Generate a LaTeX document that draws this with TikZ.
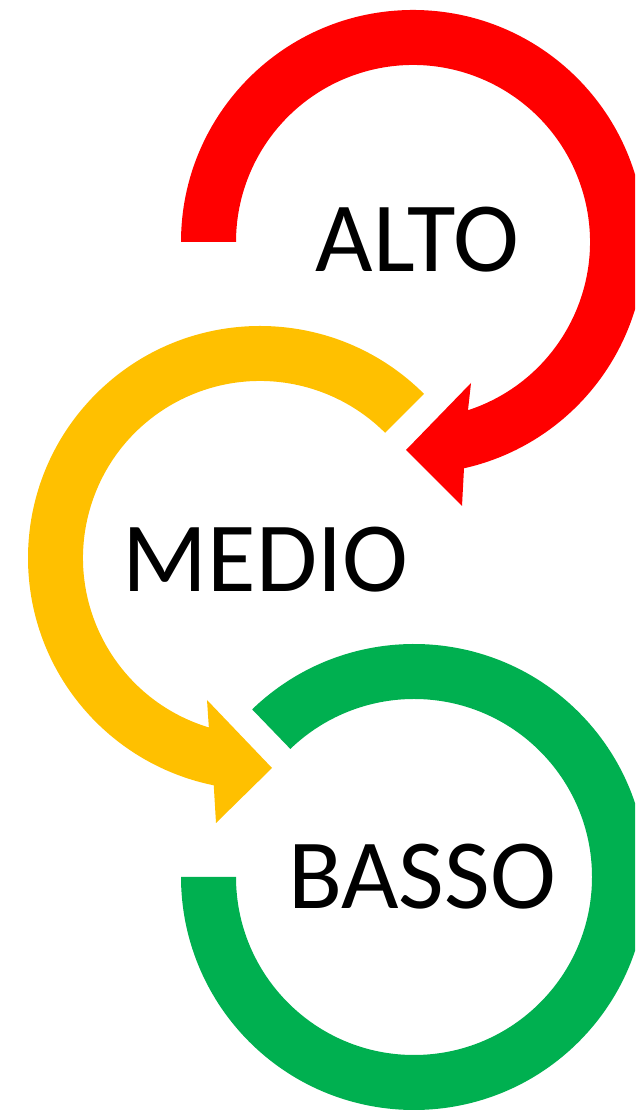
\documentclass[tikz,border=0pt]{standalone}
\usepackage{fontspec}
\setmainfont{Carlito}
\definecolor{cred}{HTML}{FF0000}
\definecolor{cyellow}{HTML}{FFC000}
\definecolor{cgreen}{HTML}{00B050}
\begin{document}
\begin{tikzpicture}[x=0.75pt,y=0.75pt,
  lbl/.style={inner sep=0pt,font=\fontsize{74.5}{80}\selectfont,text=black}]
\useasboundingbox (0,0) rectangle (635,1112);
\clip (0,0) rectangle (635,1112);
% centres
\coordinate (cr) at (413,870);
\coordinate (cy) at (260,554);
\coordinate (cg) at (414,235);
% red arrow
\coordinate (rbo) at (462,606);
\coordinate (rtip) at (406,662);
\coordinate (rbi) at (471,729);
\fill[cred] ([shift={(180:232)}]cr) arc[start angle=180,end angle=-77.3,radius=232]
  -- (rbo) -- (rtip) -- (rbi)
  -- ([shift={(-71.9:177)}]cr) arc[start angle=-71.9,end angle=180,radius=177] -- cycle;
% yellow arrow
\coordinate (ybo) at (216,289);
\coordinate (ytip) at (272,344);
\coordinate (ybi) at (207,412);
\fill[cyellow] ([shift={(45:232)}]cy) arc[start angle=45,end angle=258.5,radius=232]
  -- (ybo) -- (ytip) -- (ybi)
  -- ([shift={(253.2:177)}]cy) arc[start angle=253.2,end angle=45,radius=177] -- cycle;
% green arc
\fill[cgreen] ([shift={(134:233)}]cg) arc[start angle=134,end angle=-180,radius=233]
  -- ([shift={(180:178)}]cg) arc[start angle=-180,end angle=134,radius=178] -- cycle;
% labels
\node[lbl] (alto) at (417.5,872) {ALTO};
\node[lbl] (medio) at (265.5,552) {MEDIO};
\node[lbl] (basso) at (422,235.5) {BASSO};
\end{tikzpicture}
\end{document}
